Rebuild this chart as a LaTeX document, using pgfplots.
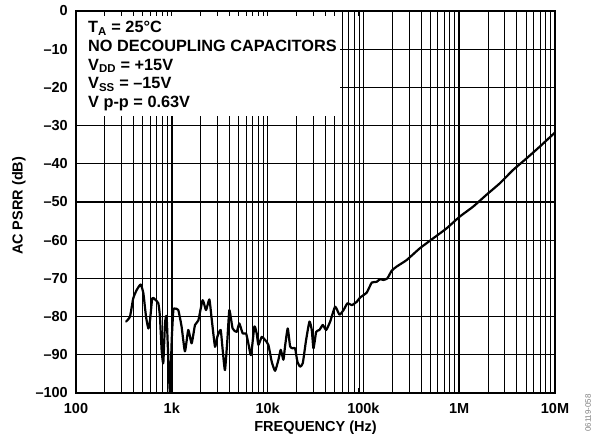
\documentclass[border=0pt]{standalone}
\usepackage{fontspec}
\setmainfont{Liberation Sans}
\usepackage{pgfplots}
\usepackage{pgfplotstable}
\pgfplotsset{compat=1.18}

\pgfplotstableread{
f db
333 -81.3
366 -80.0
396 -75.2
431 -73.0
473 -71.6
505 -73.9
538 -80.0
569 -83.1
592 -81.1
625 -75.2
667 -75.5
723 -76.5
752 -80.0
783 -88.7
815 -92.2
849 -81.8
883 -80.0
920 -91.3
957 -100
998 -86.1
1038 -78.3
1079 -77.9
1169 -78.3
1265 -82.6
1371 -89.1
1486 -83.5
1611 -87.0
1746 -82.2
1892 -81.0
2099 -75.7
2275 -78.3
2466 -75.5
2606 -80.5
2825 -87.9
2985 -85.3
3236 -83.5
3396 -88.7
3589 -94.0
3802 -86.1
3990 -78.3
4315 -83.1
4753 -84.0
5070 -81.8
5495 -84.4
5957 -84.4
6295 -87.0
6714 -90.1
7278 -82.6
7691 -84.4
8017 -87.4
8690 -85.3
9397 -86.1
10186 -87.4
11041 -91.8
11967 -94.2
12972 -91.3
13709 -88.7
14622 -91.3
15205 -87.8
16218 -83.1
17179 -87.8
18281 -88.3
19364 -88.3
20464 -91.8
21827 -93.1
23281 -92.2
25235 -86.1
27353 -81.3
28907 -83.5
30130 -88.3
32137 -84.0
34754 -83.5
37670 -82.2
40832 -83.5
44978 -81.3
50699 -77.4
56234 -79.5
61944 -78.3
68234 -76.5
75683 -77.0
85310 -76.1
92470 -75.0
108393 -73.7
122180 -71.1
137404 -70.9
148936 -70.2
161436 -70.4
177828 -70.0
197242 -68.0
222331 -66.9
282488 -65.2
389045 -62.1
535797 -59.5
737904 -56.9
1016249 -53.8
1399587 -51.2
1927525 -48.1
2654606 -45.1
3655948 -41.6
5035006 -38.6
6934258 -35.5
10000000 -31.8
}\psrr

\begin{document}
\begin{tikzpicture}
\path[use as bounding box] (-76pt,-47pt) rectangle (517pt,393pt);
% vertical grid
\begin{axis}[
  xmode=log, xmin=100, xmax=10000000, ymin=-100, ymax=0,
  scale only axis, width=479pt, height=382pt,
  at={(0pt,0pt)}, anchor=south west,
  xmajorgrids, xminorgrids,
  major grid style={black, line width=1.5pt},
  minor grid style={black, line width=1.05pt},
  xtick={100,1000,10000,100000,1000000,10000000},
  ytick={-100,-90,...,0},
  xticklabels={}, yticklabels={},
  major tick length=0pt, minor tick length=0pt,
  axis line style={draw=none}]
\addplot[draw=none, mark=none, forget plot] coordinates {(100,-100) (10000000,0)};
\end{axis}
% horizontal grid
\begin{axis}[
  xmode=log, xmin=100, xmax=10000000, ymin=-100, ymax=0,
  scale only axis, width=479pt, height=382pt,
  at={(0pt,0pt)}, anchor=south west,
  ymajorgrids,
  major grid style={black, line width=1.05pt},
  xtick={100,1000,10000,100000,1000000,10000000},
  ytick={-100,-90,...,0},
  xticklabels={}, yticklabels={},
  major tick length=0pt, minor tick length=0pt,
  axis line style={draw=none}]
\addplot[draw=none, mark=none, forget plot] coordinates {(100,-100) (10000000,0)};
\end{axis}
% white text box
\fill[white] (0pt,277pt) rectangle (264pt,382pt);
% main axis
\begin{axis}[
  xmode=log, xmin=100, xmax=10000000, ymin=-100, ymax=0,
  scale only axis, width=479pt, height=382pt,
  at={(0pt,0pt)}, anchor=south west,
  axis line style={line width=1.5pt},
  tick align=inside,
  major tick length=5pt, minor tick length=5pt,
  every tick/.style={black, line width=1.05pt},
  ytick style={draw=none},
  xtick={100,1000,10000,100000,1000000,10000000},
  xticklabels={100,1k,10k,100k,1M,10M},
  ytick={-100,-90,...,0},
  yticklabels={–100,–90,–80,–70,–60,–50,–40,–30,–20,–10,0},
  ticklabel style={font=\fontsize{14.5}{16}\selectfont\bfseries},
  xticklabel style={inner sep=0pt, anchor=north, yshift=-10pt},
  yticklabel style={inner sep=0pt, anchor=east, xshift=-8pt},
  xlabel={FREQUENCY (Hz)},
  ylabel={AC PSRR (dB)},
  label style={font=\fontsize{14.5}{16}\selectfont\bfseries},
  xlabel style={at={(axis description cs:0.5,-0.092)}, anchor=center},
  ylabel style={at={(axis description cs:-0.119,0.49)}, anchor=center}]
\addplot[black, line width=2.2pt, line join=round, line cap=round, smooth, tension=0.3] table[x=f, y=db] {\psrr};
\end{axis}
\node[anchor=north west, inner sep=0pt, align=left,
      font=\fontsize{16.3}{18.8}\selectfont\bfseries] at (12pt,372pt)
  {T\textsubscript{A} = 25°C\\
   NO DECOUPLING CAPACITORS\\
   V\textsubscript{DD} = +15V\\
   V\textsubscript{SS} = –15V\\
   V p-p = 0.63V};
\node[rotate=90, anchor=east, inner sep=0pt, text=gray,
      font=\fontsize{8}{10}\selectfont] at (512pt,-1pt) {06119-058};
\end{tikzpicture}
\end{document}
